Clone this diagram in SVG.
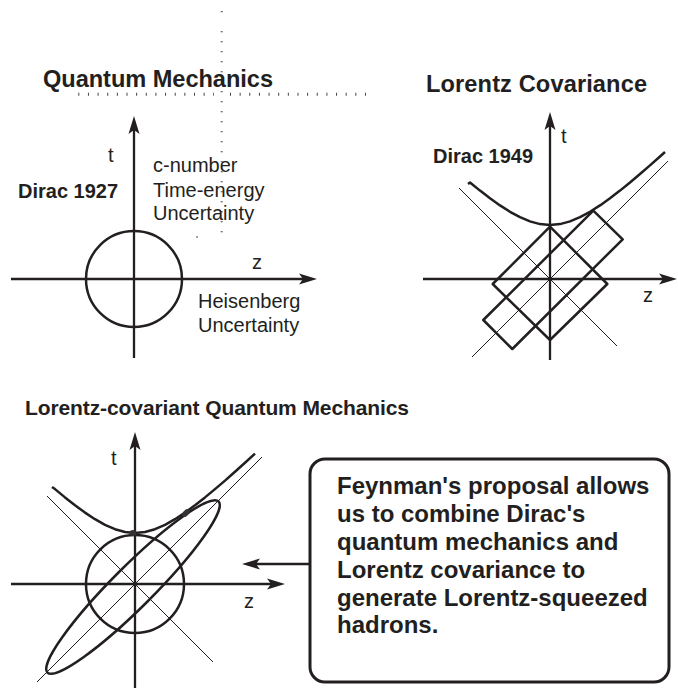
<svg xmlns="http://www.w3.org/2000/svg" width="678" height="690" viewBox="0 0 678 690">
<style>
.ax{stroke:#231f20;stroke-width:2.3;fill:none;marker-end:url(#ah)}
.thin{stroke:#231f20;stroke-width:1;fill:none}
.thick{stroke:#231f20;stroke-width:2.5;fill:none;stroke-linejoin:round}
.t{font-family:"Liberation Sans",Arial,Helvetica,sans-serif;fill:#231f20}
.lbl{font-size:20px}
.b{font-weight:bold}
.title{font-size:23.6px;font-weight:bold}
.box{font-size:24px;font-weight:bold}
.dots{stroke:#444;fill:none}
</style>
<defs>
<marker id="ah" markerUnits="userSpaceOnUse" viewBox="-8 -7 21 14" markerWidth="21" markerHeight="14" refX="0" refY="0" orient="auto" overflow="visible">
<path d="M12,0 L-6,-5.5 L-2,0 L-6,5.5 Z" fill="#231f20"/>
</marker>
</defs>
<rect width="678" height="690" fill="#fff"/>

<g id="marks">
<line class="dots" x1="78.3" y1="94.3" x2="214" y2="94.3" stroke-width="3" stroke-dasharray="1 8.64"/>
<line class="dots" x1="230" y1="94.3" x2="366" y2="94.3" stroke-width="3" stroke-dasharray="1 8.64"/>
<line class="dots" x1="220.8" y1="11.7" x2="222.8" y2="11.7" stroke-width="1"/>
<line class="dots" x1="221.7" y1="31.2" x2="221.7" y2="233" stroke-width="2" stroke-dasharray="1 9"/>
<line class="dots" x1="196" y1="237" x2="198" y2="237" stroke-width="1"/>
</g>

<g id="panel-quantum-mechanics">
<text class="t title" x="43" y="87" textLength="230" lengthAdjust="spacing">Quantum Mechanics</text>
<line class="ax" x1="134" y1="358" x2="134" y2="128"/>
<line class="ax" x1="11" y1="279" x2="305" y2="279"/>
<circle class="thick" cx="134" cy="279" r="48" stroke-width="2.3"/>
<text class="t lbl" x="108" y="162">t</text>
<text class="t lbl" x="252" y="269">z</text>
<text class="t lbl b" x="18" y="198">Dirac 1927</text>
<text class="t lbl" x="153" y="172">c-number</text>
<text class="t lbl" x="153" y="197">Time-energy</text>
<text class="t lbl" x="153" y="220">Uncertainty</text>
<text class="t lbl" x="198" y="308">Heisenberg</text>
<text class="t lbl" x="198" y="332">Uncertainty</text>
</g>

<g id="panel-lorentz-covariance">
<text class="t title" x="426" y="92" textLength="221" lengthAdjust="spacing">Lorentz Covariance</text>
<line class="thin" x1="459" y1="188" x2="617" y2="346"/>
<line class="thin" x1="472" y1="357" x2="668" y2="161"/>
<line class="ax" x1="550" y1="360" x2="550" y2="124"/>
<line class="ax" x1="423" y1="279" x2="665" y2="279"/>
<polyline class="thick" points="468,184 470,182.5 480,190.6 490,198.3 500,205.4 510,211.8 520,217.2 530,221.4 540,224.1 550,225 560,224.1 570,221.4 580,217.2 590,211.8 600,205.4 610,198.3 620,190.6 630,182.5 640,174 650,165.4 660,156.5 665,152"/>
<polygon class="thick" points="550,226.7 607.3,284 550,340 492.7,284"/>
<polygon class="thick" points="593.3,210.7 622.7,239.3 512.3,349 483.3,320"/>
<text class="t lbl" x="561" y="143">t</text>
<text class="t lbl" x="643" y="302">z</text>
<text class="t lbl b" x="433" y="163">Dirac 1949</text>
</g>

<g id="panel-lorentz-covariant-qm">
<text class="t b" font-size="21" x="25" y="415" textLength="384" lengthAdjust="spacing">Lorentz-covariant Quantum Mechanics</text>
<line class="thin" x1="47" y1="496" x2="213" y2="662"/>
<line class="thin" x1="37" y1="682" x2="262" y2="457"/>
<circle class="thick" cx="135" cy="584" r="49" stroke-width="2.3"/>
<ellipse class="thick" cx="133" cy="587" rx="121" ry="20.5" transform="rotate(-45 133 587)"/>
<polyline class="thick" points="52,487 55,489.1 65,497.4 75,505.3 85,512.6 95,519.2 105,524.8 115,529.2 125,532 135,533 145,532 155,529.2 165,524.8 175,519.2 185,512.6 195,505.3 205,497.4 215,489.1 225,480.6 235,471.7 245,462.8 255,453.6"/>
<line class="ax" x1="135" y1="688" x2="135" y2="444"/>
<line class="ax" x1="11" y1="584" x2="273" y2="584"/>
<ellipse cx="133" cy="533" rx="3.5" ry="3" fill="#333"/>
<ellipse cx="186" cy="513" rx="2.8" ry="4.5" fill="#333" transform="rotate(40 186 513)"/>
<text class="t lbl" x="111" y="465">t</text>
<text class="t lbl" x="244" y="608">z</text>
</g>

<g id="box-feynman">
<rect x="310" y="459" width="359" height="223" rx="15" ry="15" fill="none" stroke="#231f20" stroke-width="3"/>
<text class="t box" x="337" y="494.3">Feynman's proposal allows</text>
<text class="t box" x="337" y="522.2">us to combine Dirac's</text>
<text class="t box" x="337" y="550">quantum mechanics and</text>
<text class="t box" x="337" y="577.8">Lorentz covariance to</text>
<text class="t box" x="337" y="605.6">generate Lorentz-squeezed</text>
<text class="t box" x="337" y="633.4">hadrons.</text>
</g>

<g id="connectors">
<line class="ax" x1="310" y1="564" x2="254" y2="564"/>
</g>
</svg>
